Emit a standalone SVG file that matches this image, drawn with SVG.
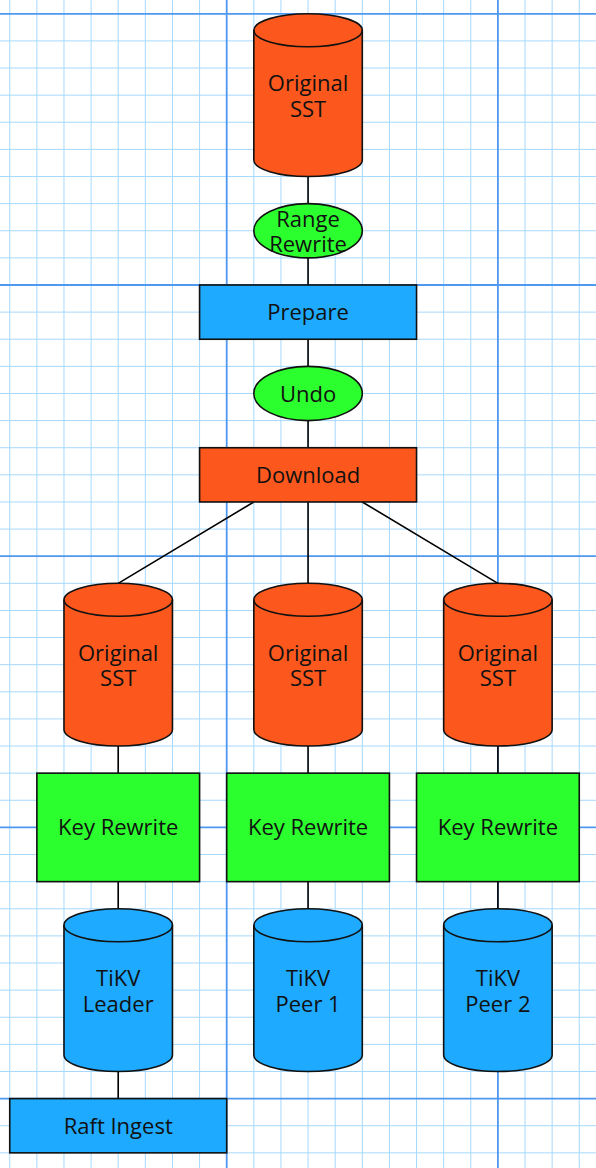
<svg xmlns="http://www.w3.org/2000/svg" width="596" height="1168" viewBox="0 0 596 1168">
<style>
.minor{stroke:#a6d8fd;stroke-width:1;fill:none}
.major{stroke:#4f98f0;stroke-width:1.8;fill:none}
.edge{stroke:#000;stroke-width:1.6;fill:none}
.shape{stroke:#111;stroke-width:1.6}
.orange{fill:#fc581e}
.green{fill:#2cff2e}
.blue{fill:#1eaaff}
text{font-family:"Open Sans","Noto Sans","Liberation Sans",sans-serif;font-size:22px;fill:#111;text-anchor:middle}
</style>
<defs>
<g id="cyl">
<path d="M0,16.5 A54.24,16.5 0 0 1 108.48,16.5 V146.22 A54.24,16.5 0 0 1 0,146.22 Z" stroke="#111" stroke-width="1.6"/>
<path d="M0,16.5 A54.24,16.5 0 0 0 108.48,16.5" fill="none" stroke="#111" stroke-width="1.6"/>
</g>
</defs>
<rect width="596" height="1168" fill="#fff"/>
<g id="grid">
<path class="minor" d="M9.74,0V1168M36.86,0V1168M63.98,0V1168M91.1,0V1168M118.22,0V1168M145.34,0V1168M172.46,0V1168M199.58,0V1168M253.82,0V1168M280.94,0V1168M308.06,0V1168M335.18,0V1168M362.3,0V1168M389.42,0V1168M416.54,0V1168M443.66,0V1168M470.78,0V1168M525.02,0V1168M552.14,0V1168M579.26,0V1168"/>
<path class="minor" d="M0,40.92H596M0,68.04H596M0,95.16H596M0,122.28H596M0,149.4H596M0,176.52H596M0,203.64H596M0,230.76H596M0,257.88H596M0,312.12H596M0,339.24H596M0,366.36H596M0,393.48H596M0,420.6H596M0,447.72H596M0,474.84H596M0,501.96H596M0,529.08H596M0,583.32H596M0,610.44H596M0,637.56H596M0,664.68H596M0,691.8H596M0,718.92H596M0,746.04H596M0,773.16H596M0,800.28H596M0,854.52H596M0,881.64H596M0,908.76H596M0,935.88H596M0,963H596M0,990.12H596M0,1017.24H596M0,1044.36H596M0,1071.48H596M0,1125.72H596M0,1152.84H596"/>
<path class="major" d="M226.7,0V1168M497.9,0V1168M0,13.8H596M0,285H596M0,556.2H596M0,827.4H596M0,1098.6H596"/>
</g>
<g id="connectors">
<path class="edge" d="M308.06,176.52V203.64M308.06,257.88V285M308.06,339.24V366.36M308.06,420.6V447.72"/>
<path class="edge" d="M253.82,501.96L118.22,583.32M308.06,501.96V583.32M362.3,501.96L497.9,583.32"/>
<path class="edge" d="M118.22,746.04V773.16M308.06,746.04V773.16M497.9,746.04V773.16"/>
<path class="edge" d="M118.22,881.64V908.76M308.06,881.64V908.76M497.9,881.64V908.76M118.22,1071.48V1098.6"/>
</g>
<g id="original-sst-top">
<use href="#cyl" class="orange" x="253.82" y="13.8"/>
<text x="308.06" y="91.2">Original</text>
<text x="308.06" y="116.9">SST</text>
</g>
<g id="range-rewrite">
<ellipse class="shape green" cx="308.06" cy="230.76" rx="54.24" ry="27.12"/>
<text x="308.06" y="226.8">Range</text>
<text x="308.06" y="251.8">Rewrite</text>
</g>
<g id="prepare">
<rect class="shape blue" x="199.58" y="285" width="216.96" height="54.24"/>
<text x="308.06" y="320.3">Prepare</text>
</g>
<g id="undo">
<ellipse class="shape green" cx="308.06" cy="393.48" rx="54.24" ry="27.12"/>
<text x="308.06" y="401.7">Undo</text>
</g>
<g id="download">
<rect class="shape orange" x="199.58" y="447.72" width="216.96" height="54.24"/>
<text x="308.06" y="483">Download</text>
</g>
<g id="original-sst-1">
<use href="#cyl" class="orange" x="63.98" y="583.32"/>
<text x="118.22" y="660.7">Original</text>
<text x="118.22" y="686.4">SST</text>
</g>
<g id="original-sst-2">
<use href="#cyl" class="orange" x="253.82" y="583.32"/>
<text x="308.06" y="660.7">Original</text>
<text x="308.06" y="686.4">SST</text>
</g>
<g id="original-sst-3">
<use href="#cyl" class="orange" x="443.66" y="583.32"/>
<text x="497.9" y="660.7">Original</text>
<text x="497.9" y="686.4">SST</text>
</g>
<g id="key-rewrite-1">
<rect class="shape green" x="36.86" y="773.16" width="162.72" height="108.48"/>
<text x="118.22" y="835.4">Key Rewrite</text>
</g>
<g id="key-rewrite-2">
<rect class="shape green" x="226.7" y="773.16" width="162.72" height="108.48"/>
<text x="308.06" y="835.4">Key Rewrite</text>
</g>
<g id="key-rewrite-3">
<rect class="shape green" x="416.54" y="773.16" width="162.72" height="108.48"/>
<text x="497.9" y="835.4">Key Rewrite</text>
</g>
<g id="tikv-leader">
<use href="#cyl" class="blue" x="63.98" y="908.76"/>
<text x="118.22" y="986.1">TiKV</text>
<text x="118.22" y="1011.8">Leader</text>
</g>
<g id="tikv-peer-1">
<use href="#cyl" class="blue" x="253.82" y="908.76"/>
<text x="308.06" y="986.1">TiKV</text>
<text x="308.06" y="1011.8">Peer 1</text>
</g>
<g id="tikv-peer-2">
<use href="#cyl" class="blue" x="443.66" y="908.76"/>
<text x="497.9" y="986.1">TiKV</text>
<text x="497.9" y="1011.8">Peer 2</text>
</g>
<g id="raft-ingest">
<rect class="shape blue" x="9.74" y="1098.6" width="216.96" height="54.24"/>
<text x="118.22" y="1133.9">Raft Ingest</text>
</g>
</svg>
